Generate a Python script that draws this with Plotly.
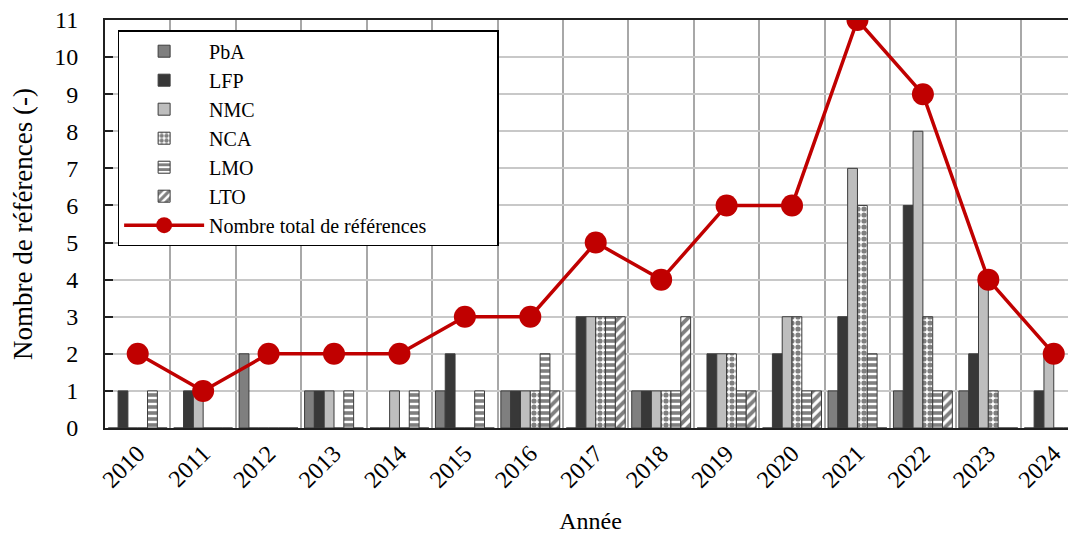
import plotly.graph_objects as go

years = [str(y) for y in range(2010, 2025)]

pba = [0, 0, 2, 1, 0, 1, 1, 0, 1, 0, 0, 1, 1, 1, 0]
lfp = [1, 1, 0, 1, 0, 2, 1, 3, 1, 2, 2, 3, 6, 2, 1]
nmc = [0, 1, 0, 1, 1, 0, 1, 3, 1, 2, 3, 7, 8, 4, 2]
nca = [0, 0, 0, 0, 0, 0, 1, 3, 1, 2, 3, 6, 3, 1, 0]
lmo = [1, 0, 0, 1, 1, 1, 2, 3, 1, 1, 1, 2, 1, 0, 0]
lto = [0, 0, 0, 0, 0, 0, 1, 3, 3, 1, 1, 0, 1, 0, 0]
total = [2, 1, 2, 2, 2, 3, 3, 5, 4, 6, 6, 11, 9, 4, 2]

FONT = "Liberation Serif"
OUTLINE = dict(color="#3c3c3c", width=1)

solid = [("PbA", pba, "#7f7f7f"), ("LFP", lfp, "#383838"), ("NMC", nmc, "#bebebe")]
patterned = [("NCA", nca, ".", 6, 0.6), ("LMO", lmo, "-", 6, 0.6), ("LTO", lto, "/", 7, 0.55)]

fig = go.Figure()

for name, vals, col in solid:
    fig.add_trace(go.Bar(x=years, y=vals, name=name,
                         marker=dict(color=col, line=OUTLINE)))

for name, vals, shape, size, sol in patterned:
    fig.add_trace(go.Bar(
        x=years, y=vals, name=name,
        marker=dict(color="white", line=OUTLINE,
                    pattern=dict(shape=shape, fgcolor="black", bgcolor="white",
                                 size=size, solidity=sol, fillmode="overlay")),
    ))

# trailing nbsp widens the legend box like the original
fig.add_trace(go.Scatter(
    x=years, y=total, name="Nombre total de références" + "\u00a0" * 13,
    mode="lines+markers",
    line=dict(color="#c00000", width=3.5),
    marker=dict(color="#c00000", size=22),
))

# page body has an 8px default margin, so the figure is shrunk by that much
fig.update_layout(
    width=1068, height=527,
    margin=dict(l=97, r=0, t=12, b=107),
    paper_bgcolor="white", plot_bgcolor="white",
    font=dict(family=FONT, size=24, color="black"),
    barmode="group", bargap=0.1, bargroupgap=0,
    legend=dict(
        x=0.013, y=0.975, xanchor="left", yanchor="top",
        bgcolor="white", bordercolor="black", borderwidth=1.5,
        font=dict(family=FONT, size=20),
        tracegroupgap=0, itemwidth=80,
    ),
    xaxis=dict(
        type="category", range=[-0.5, 14.34],
        tickson="boundaries", ticks="",
        showgrid=True, gridcolor="#a8a8a8", gridwidth=2,
        showline=True, linecolor="#202020", linewidth=2, mirror=True,
        tickangle=-45, tickfont=dict(family=FONT, size=24),
        title=dict(text="Année", font=dict(family=FONT, size=24), standoff=20),
    ),
    yaxis=dict(
        range=[0, 11], dtick=1,
        ticks="inside", ticklen=8, tickcolor="#202020", tickwidth=2,
        showgrid=True, gridcolor="#c8c8c8", gridwidth=2,
        showline=True, linecolor="#202020", linewidth=2,
        tickfont=dict(family=FONT, size=24), ticklabeloverflow="allow",
        ticklabelstandoff=20,
        title=dict(text="Nombre de références (-)", font=dict(family=FONT, size=27), standoff=14),
        zeroline=False,
    ),
)

fig.write_html("out.html")
